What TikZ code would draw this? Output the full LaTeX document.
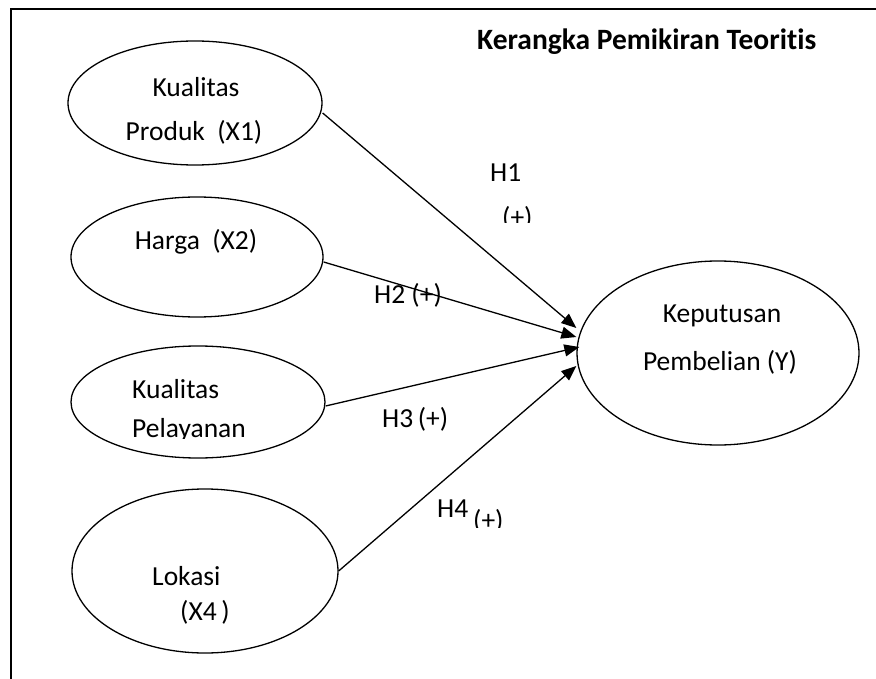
\documentclass[tikz,border=0pt]{standalone}
\usepackage{fontspec}
\setmainfont{Carlito}[Ligatures=NoCommon]
\usetikzlibrary{arrows.meta,shapes.geometric}
\begin{document}
\begin{tikzpicture}[x=1pt,y=-1pt,
  oval/.style={draw,ellipse,line width=1.3pt,inner sep=0pt},
  lbl/.style={font=\fontsize{27.5}{32}\selectfont,inner sep=0pt},
  conn/.style={line width=1.3pt,-{Triangle[length=15pt,width=12pt]}},
]
\useasboundingbox (0,0) rectangle (876,679);
\draw[line width=2pt] (876,9) -- (11,9) -- (11,679);

\node[oval,minimum width=254pt,minimum height=124pt] (e1) at (195,103) {};
\node[oval,minimum width=252pt,minimum height=120pt] (e2) at (197,257) {};
\node[oval,minimum width=254pt,minimum height=112pt] (e3) at (198,402) {};
\node[oval,minimum width=266pt,minimum height=164pt] (e4) at (205,571) {};
\node[oval,minimum width=282pt,minimum height=184pt] (y) at (718,353) {};

\draw[conn] ([yshift=-10pt]e1.east) -- ([yshift=25pt]y.west);
\draw[conn] ([yshift=-5pt]e2.east) -- ([yshift=16pt]y.west);
\draw[conn] ([yshift=-4pt]e3.east) -- ([shift={(3pt,6pt)}]y.west);
\draw[conn] (e4.east) -- ([yshift=-13pt]y.west);

\node[lbl,anchor=base] (k1) at (196,97) {Kualitas};
\node[lbl,anchor=base] (p1) at (194,141) {Produk\ \ (X1)};
\node[lbl,anchor=base] (h2) at (196,250) {Harga\ \ (X2)};
\node[lbl,anchor=base west] (k3) at (132,398) {Kualitas};
\begin{scope}
\clip (100,300) rectangle (300,438.5);
\node[lbl,anchor=base west] (p3) at (132,437) {Pelayanan};
\end{scope}
\node[lbl,anchor=base west] (l4) at (152,585) {Lokasi};
\node[lbl,anchor=base west] (x4) at (180,620) {(X4\,)};
\node[lbl,anchor=base] (ky) at (722,323) {Keputusan};
\node[lbl,anchor=base] (py) at (720,370) {Pembelian (Y)};
\node[lbl,anchor=base west,font=\bfseries\fontsize{29.5}{34}\selectfont] (title) at (477,50) {Kerangka Pemikiran Teoritis};
\node[lbl,anchor=base west] (h1) at (490,182) {H1};
\begin{scope}
\clip (480,200) rectangle (560,223);
\node[lbl,anchor=base west] (h1p) at (502,227) {(+)};
\end{scope}
\node[lbl,anchor=base west] (h2l) at (374,304) {H2 (+)};
\node[lbl,anchor=base west] (h3l) at (382,427) {H3\,(+)};
\node[lbl,anchor=base west] (h4l) at (437,517) {H4};
\begin{scope}
\clip (460,500) rectangle (520,527);
\node[lbl,anchor=base west] (h4p) at (473,529) {(+)};
\end{scope}
\end{tikzpicture}
\end{document}
